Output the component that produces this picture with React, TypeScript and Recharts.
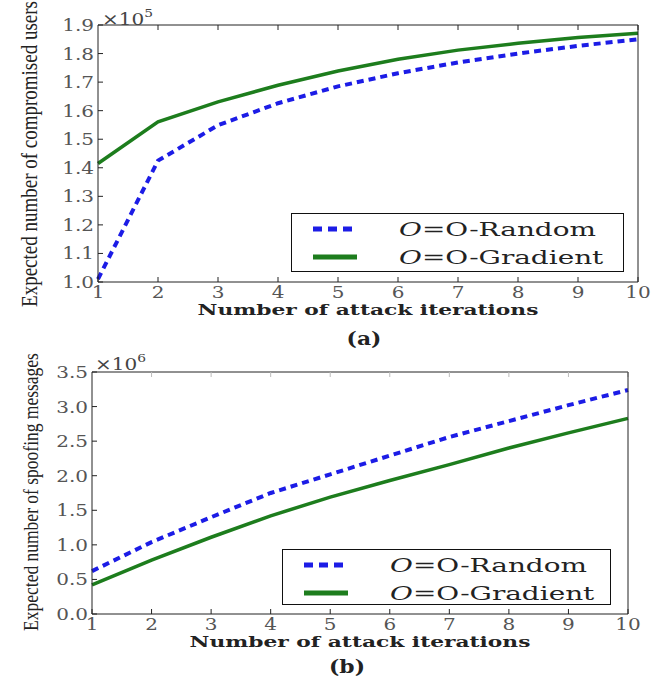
import React from 'react';
import { LineChart, Line, XAxis, YAxis, Legend } from 'recharts';

// attack iterations (x axis of both panels)
const iterations = [1, 2, 3, 4, 5, 6, 7, 8, 9, 10];

// (a) expected number of compromised users, in units of 10^5
const usersRandom = [1.01, 1.425, 1.549, 1.626, 1.685, 1.731, 1.769, 1.8, 1.827, 1.85];
const usersGradient = [1.415, 1.561, 1.631, 1.689, 1.739, 1.78, 1.812, 1.836, 1.856, 1.871];
const usersTicks = [1.0, 1.1, 1.2, 1.3, 1.4, 1.5, 1.6, 1.7, 1.8, 1.9];

// (b) expected number of spoofing messages, in units of 10^6
const spoofRandom = [0.62, 1.04, 1.4, 1.75, 2.02, 2.29, 2.56, 2.79, 3.02, 3.24];
const spoofGradient = [0.42, 0.78, 1.11, 1.42, 1.69, 1.93, 2.16, 2.4, 2.62, 2.83];
const spoofTicks = [0.0, 0.5, 1.0, 1.5, 2.0, 2.5, 3.0, 3.5];

const seriesNames = ['O-Random', 'O-Gradient'];

const BLUE = '#1c1ce6';
const GREEN = '#1d7d1d';
const SERIF = '"DejaVu Serif", serif';
const TIMES = '"Liberation Serif", "Times New Roman", serif';
const SX = 1.25; // the original figure is stretched sideways

const makeRows = (rnd: number[], grd: number[]) =>
  iterations.map((it, i) => ({ it, random: rnd[i], gradient: grd[i] }));

const XTick = (props: any) => {
  const { x, y, payload } = props;
  return (
    <g transform={`translate(${x},${y}) scale(${SX},1)`}>
      <text x={0} y={0} dy={11} textAnchor="middle" fontFamily={SERIF} fontSize={16} fill="#555">
        {payload.value}
      </text>
    </g>
  );
};

const YTick = (props: any) => {
  const { x, y, payload } = props;
  return (
    <g transform={`translate(${x},${y}) scale(${SX},1)`}>
      <text x={0} y={0} dy={6} textAnchor="end" fontFamily={SERIF} fontSize={16} fill="#555">
        {Number(payload.value).toFixed(1)}
      </text>
    </g>
  );
};

const NoTick = () => <g />;

const LegendBox = ({ payload }: any) => {
  const items = [...(payload || [])].sort(
    (a: any, b: any) => seriesNames.indexOf(a.value) - seriesNames.indexOf(b.value)
  );
  return (
    <div
      style={{
        position: 'relative',
        boxSizing: 'border-box',
        width: '100%',
        height: '100%',
        border: '1.5px solid #111',
        background: '#fff',
      }}
    >
      {items.map((entry: any, i: number) => {
        const dashed = !!(entry.payload && entry.payload.strokeDasharray);
        return (
          <div
            key={entry.value}
            style={{
              position: 'absolute',
              left: 0,
              top: (i === 0 ? 15 : 43) - 12,
              height: 24,
              width: '100%',
              display: 'flex',
              alignItems: 'center',
            }}
          >
            <svg width={44} height={8} style={{ marginLeft: 21, flex: 'none' }}>
              <line
                x1={0}
                y1={4}
                x2={44}
                y2={4}
                stroke={entry.color}
                strokeWidth={5}
                strokeDasharray={dashed ? '9 6' : undefined}
              />
            </svg>
            <span
              style={{
                marginLeft: 42,
                fontFamily: SERIF,
                fontSize: 18,
                color: '#222',
                whiteSpace: 'nowrap',
                display: 'inline-block',
                transform: 'scaleX(1.55)',
                transformOrigin: 'left center',
              }}
            >
              <span style={{ fontStyle: 'italic' }}>O</span>={entry.value}
            </span>
          </div>
        );
      })}
    </div>
  );
};

type PanelProps = {
  rows: { it: number; random: number; gradient: number }[];
  yTicks: number[];
  height: number;
  plotTop: number;
  plotBottom: number;
  plotLeft: number;
  plotRight: number;
  legendBox: { left: number; top: number; width: number; height: number };
  faint: boolean;
};

function Panel({ rows, yTicks, height, plotTop, plotBottom, plotLeft, plotRight, legendBox, faint }: PanelProps) {
  const margin = {
    top: plotTop - 5,
    right: 663 - plotRight - 10,
    bottom: height - plotBottom - 45,
    left: 0,
  };
  const yDomain = [yTicks[0], yTicks[yTicks.length - 1]];
  const edgeTick = faint ? '#bbb' : '#222';
  return (
    <LineChart width={663} height={height} data={rows} margin={margin}>
      <XAxis
        type="number"
        dataKey="it"
        domain={[1, 10]}
        ticks={iterations}
        interval={0}
        height={45}
        tick={<XTick />}
        tickSize={-5}
        tickMargin={10}
        axisLine={{ stroke: '#222' }}
        tickLine={{ stroke: '#222' }}
      />
      <XAxis
        xAxisId="top"
        orientation="top"
        type="number"
        domain={[1, 10]}
        ticks={iterations}
        interval={0}
        height={5}
        tick={<NoTick />}
        tickSize={-5}
        axisLine={{ stroke: '#222' }}
        tickLine={{ stroke: edgeTick }}
      />
      <YAxis
        type="number"
        domain={yDomain}
        ticks={yTicks}
        interval={0}
        width={plotLeft}
        tick={<YTick />}
        tickSize={-5}
        tickMargin={9}
        axisLine={{ stroke: '#222' }}
        tickLine={{ stroke: '#222' }}
      />
      <YAxis
        yAxisId="right"
        orientation="right"
        type="number"
        domain={yDomain}
        ticks={yTicks}
        interval={0}
        width={10}
        tick={<NoTick />}
        tickSize={-5}
        axisLine={{ stroke: '#222' }}
        tickLine={{ stroke: edgeTick }}
      />
      <Line
        type="linear"
        dataKey="random"
        name={seriesNames[0]}
        stroke={BLUE}
        strokeWidth={4}
        strokeDasharray="7 5"
        dot={false}
        activeDot={false}
        isAnimationActive={false}
      />
      <Line
        type="linear"
        dataKey="gradient"
        name={seriesNames[1]}
        stroke={GREEN}
        strokeWidth={3.5}
        dot={false}
        activeDot={false}
        isAnimationActive={false}
      />
      <Legend
        layout="horizontal"
        align="center"
        verticalAlign="middle"
        content={<LegendBox />}
        wrapperStyle={{ ...legendBox, position: 'absolute' }}
      />
    </LineChart>
  );
}

export default function App() {
  const usersRows = makeRows(usersRandom, usersGradient);
  const spoofRows = makeRows(spoofRandom, spoofGradient);
  return (
    <div style={{ position: 'absolute', left: 0, top: 0, width: 663, height: 678, background: '#fff', overflow: 'hidden' }}>
      <div style={{ position: 'absolute', left: 0, top: 0 }}>
        <Panel
          rows={usersRows}
          yTicks={usersTicks}
          height={345}
          plotTop={25}
          plotBottom={282}
          plotLeft={98}
          plotRight={638}
          legendBox={{ left: 291, top: 213, width: 333, height: 59 }}
          faint={false}
        />
      </div>
      <div style={{ position: 'absolute', left: 0, top: 345 }}>
        <Panel
          rows={spoofRows}
          yTicks={spoofTicks}
          height={333}
          plotTop={27}
          plotBottom={269}
          plotLeft={92}
          plotRight={628}
          legendBox={{ left: 282, top: 204, width: 329, height: 56 }}
          faint={true}
        />
      </div>
      <svg width={663} height={678} style={{ position: 'absolute', left: 0, top: 0, pointerEvents: 'none' }}>
        {/* panel (a) */}
        <text transform={`translate(102,25) scale(${SX},1)`} fontFamily={SERIF} fontSize={16} fill="#444">
          ×10<tspan dy={-8} fontSize={11}>5</tspan>
        </text>
        <text
          transform="translate(29,154) rotate(-90) scale(1,1.25)"
          textAnchor="middle"
          dy="0.35em"
          fontFamily={TIMES}
          fontSize={19}
          fill="#222"
        >
          Expected number of compromised users
        </text>
        <text
          transform="translate(368,315) scale(1.45,1)"
          textAnchor="middle"
          fontFamily={SERIF}
          fontWeight="bold"
          fontSize={15}
          fill="#222"
        >
          Number of attack iterations
        </text>
        <text transform="translate(364,345) scale(1.15,1)" textAnchor="middle" fontFamily={SERIF} fontWeight="bold" fontSize={19} fill="#222">
          (a)
        </text>
        {/* panel (b) */}
        <text transform={`translate(95,370) scale(${SX},1)`} fontFamily={SERIF} fontSize={16} fill="#444">
          ×10<tspan dy={-8} fontSize={11}>6</tspan>
        </text>
        <text
          transform="translate(30,492) rotate(-90) scale(1,1.25)"
          textAnchor="middle"
          dy="0.35em"
          fontFamily={TIMES}
          fontSize={17.5}
          fill="#222"
        >
          Expected number of spoofing messages
        </text>
        <text
          transform="translate(360,647) scale(1.45,1)"
          textAnchor="middle"
          fontFamily={SERIF}
          fontWeight="bold"
          fontSize={15}
          fill="#222"
        >
          Number of attack iterations
        </text>
        <text transform="translate(347,673) scale(1.15,1)" textAnchor="middle" fontFamily={SERIF} fontWeight="bold" fontSize={19} fill="#222">
          (b)
        </text>
      </svg>
    </div>
  );
}
